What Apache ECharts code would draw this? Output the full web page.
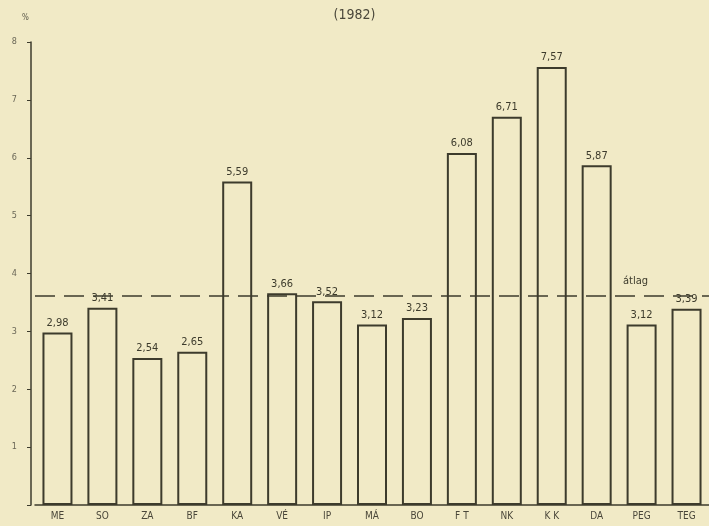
<!DOCTYPE html>
<html>
<head>
<meta charset="utf-8">
<script src="https://cdn.jsdelivr.net/npm/echarts@6/dist/echarts.min.js"></script>
<style>
html, body { margin: 0; padding: 0; background: #f1eac6; }
#chart { width: 709px; height: 526px; }
</style>
</head>
<body>
<div id="chart"></div>
<script>
// kategóriák és értékek (%)
var kategoriak = ['ME', 'SO', 'ZA', 'BF', 'KA', 'VÉ', 'IP', 'MÁ', 'BO', 'F T', 'NK', 'K K', 'DA', 'PEG', 'TEG'];
var ertekek = [2.98, 3.41, 2.54, 2.65, 5.59, 3.66, 3.52, 3.12, 3.23, 6.08, 6.71, 7.57, 5.87, 3.12, 3.39];
var atlag = 3.62;
var yMin = 0, yMax = 8, yLepes = 1;

var ink = '#3d3b2c';
var font = 'DejaVu Sans Condensed';

var myChart = echarts.init(document.getElementById('chart'));

var option = {
    backgroundColor: '#f1eac6',
    animation: false,
    title: {
        text: '(1982)',
        left: 'center',
        top: 3,
        textStyle: { fontFamily: font, fontSize: 14, fontWeight: 'normal', color: '#4a473a' }
    },
    graphic: [
        { type: 'text', left: 22, top: 14, style: { text: '%', fontFamily: font, fontSize: 8, fill: '#5a5748' } },
        { type: 'text', left: 623, top: 276, style: { text: 'átlag', fontFamily: font, fontSize: 11, fill: ink } }
    ],
    grid: { left: 35, right: 0, top: 42, bottom: 21 },
    xAxis: {
        type: 'category',
        data: kategoriak,
        axisLine: { lineStyle: { color: ink, width: 1.5 } },
        axisTick: { show: false },
        axisLabel: { margin: 6, fontFamily: font, fontSize: 10, color: '#4a473a' }
    },
    yAxis: {
        type: 'value',
        min: yMin,
        max: yMax,
        interval: yLepes,
        offset: 4,
        axisLine: { show: true, lineStyle: { color: ink, width: 1.5 } },
        axisTick: { show: true, length: 4, lineStyle: { color: ink } },
        splitLine: { show: false },
        axisLabel: {
            margin: 14,
            fontFamily: font,
            fontSize: 9,
            color: '#6a6757',
            formatter: function (v) { return v === 0 ? '' : v; }
        }
    },
    series: [
        {
            type: 'bar',
            data: ertekek,
            barWidth: 30,
            itemStyle: { color: 'rgba(0,0,0,0)', borderColor: ink, borderWidth: 2 },
            label: {
                show: true,
                position: 'top',
                distance: 4,
                fontFamily: font,
                fontSize: 11,
                color: ink,
                formatter: function (p) { return p.value.toFixed(2).replace('.', ','); }
            },
            markLine: {
                silent: true,
                symbol: 'none',
                label: { show: false },
                lineStyle: { color: ink, width: 1.5, type: [20, 9] },
                data: [{ yAxis: atlag }]
            }
        }
    ]
};

option && myChart.setOption(option);
</script>
</body>
</html>
